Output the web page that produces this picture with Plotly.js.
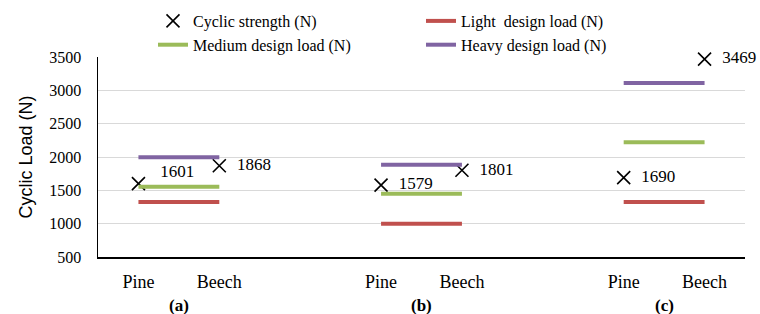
<!DOCTYPE html>
<html>
<head>
<meta charset="utf-8">
<script src="https://cdn.plot.ly/plotly-3.0.1.min.js"></script>
<style>html,body{margin:0;padding:0;background:#fff}#chart{width:760px;height:314px}</style>
</head>
<body>
<div id="chart"></div>
<script>
// Category slots: Pine, Beech, (gap), Pine, Beech, (gap), Pine, Beech
const positions = [0, 1, 3, 4, 6, 7];
const tickLabels = ["Pine", "Beech", "Pine", "Beech", "Pine", "Beech"];
const groupLabels = ["(a)", "(b)", "(c)"];
const groupCenters = [0.5, 3.5, 6.5];

const cyclicStrength = [1601, 1868, 1579, 1801, 1690, 3469];
const lightLoad  = [1325, 1325, 1000, 1000, 1325, 1325];
const mediumLoad = [1555, 1555, 1450, 1450, 2220, 2220];
const heavyLoad  = [1995, 1995, 1885, 1885, 3110, 3110];

// Break lines between groups
function withGaps(vals) {
  const xs = [], ys = [];
  for (let i = 0; i < vals.length; i += 2) {
    xs.push(positions[i], positions[i + 1], null);
    ys.push(vals[i], vals[i + 1], null);
  }
  return {x: xs, y: ys};
}

const serif = "Liberation Serif, Times New Roman, serif";

const traces = [
  {
    name: "Cyclic strength (N)",
    type: "scatter", mode: "markers+text",
    x: positions, y: cyclicStrength,
    text: cyclicStrength.map((v, i) => i === 0 ? "   " + v + "<br> " : "  " + v),
    textposition: "middle right",
    textfont: {family: serif, size: 17, color: "#000"},
    marker: {symbol: "x-thin-open", size: 13, line: {width: 1.6, color: "#000"}, color: "#000"},
    cliponaxis: false
  },
  Object.assign({name: "Light  design load (N)", type: "scatter", mode: "lines",
    line: {color: "#c0504d", width: 4}}, withGaps(lightLoad)),
  Object.assign({name: "Medium design load (N)", type: "scatter", mode: "lines",
    line: {color: "#9bbb59", width: 4}}, withGaps(mediumLoad)),
  Object.assign({name: "Heavy design load (N)", type: "scatter", mode: "lines",
    line: {color: "#8064a2", width: 4}}, withGaps(heavyLoad))
];

const layout = {
  width: 760, height: 314,
  margin: {l: 98, r: 15, t: 57, b: 57, autoexpand: false},
  paper_bgcolor: "#fff", plot_bgcolor: "#fff",
  showlegend: true,
  legend: {
    orientation: "h", x: 0.085, xanchor: "left",
    y: 1.265, yanchor: "top",
    entrywidth: 223, entrywidthmode: "pixels",
    font: {family: serif, size: 16, color: "#000"},
    tracegroupgap: 0, itemwidth: 30, bgcolor: "rgba(0,0,0,0)"
  },
  xaxis: {
    range: [-0.5, 7.5], tickmode: "array", tickvals: positions, ticktext: tickLabels,
    showgrid: false, zeroline: false, showline: true, linecolor: "#000", linewidth: 1.5,
    ticks: "", tickfont: {family: serif, size: 18, color: "#000"}, ticklabelstandoff: 8,
    fixedrange: true
  },
  yaxis: {
    range: [500, 3500], dtick: 500, tick0: 500,
    showgrid: true, gridcolor: "#d9d9d9", gridwidth: 1, zeroline: false,
    showline: true, linecolor: "#000", linewidth: 1.5, ticks: "",
    tickfont: {family: serif, size: 16, color: "#000"}, ticklabelstandoff: 12,
    title: {text: "Cyclic Load (N)", font: {family: "Liberation Sans, Arial, sans-serif", size: 18, color: "#000"}, standoff: 12},
    fixedrange: true
  },
  annotations: groupLabels.map((t, i) => ({
    text: "<b>" + t + "</b>", x: groupCenters[i], xref: "x", y: -0.24, yref: "paper",
    showarrow: false, xanchor: "center", yanchor: "middle",
    font: {family: serif, size: 17, color: "#000"}
  }))
};

Plotly.newPlot("chart", traces, layout, {staticPlot: true, displayModeBar: false});
</script>
</body>
</html>
